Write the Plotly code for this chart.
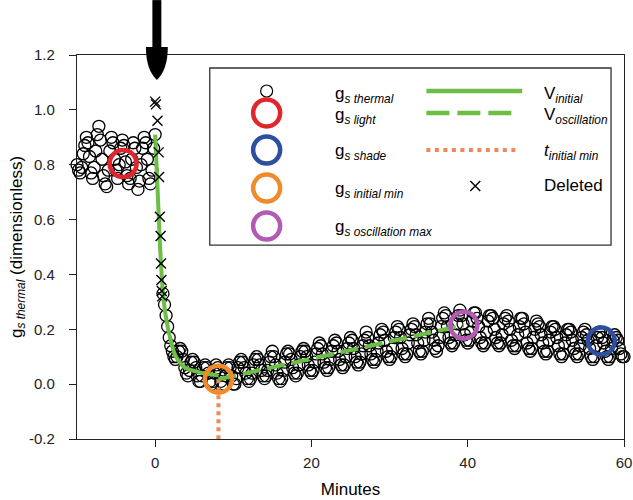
import plotly.graph_objects as go

# ---------------- data ----------------
# g_s thermal, sampled every 0.2 min starting at -10 min (None = deleted samples)
t_start = -10.0
t_step = 0.2
gs_thermal = [
    # -10 .. 0 min
    0.80, 0.78, 0.77, 0.79, 0.84, 0.87, 0.90, 0.88, 0.83, 0.77,
    0.75, 0.79, 0.85, 0.91, 0.94, 0.89, 0.82, 0.76, 0.73, 0.72,
    0.78, 0.85, 0.90, 0.88, 0.82, 0.78, 0.75, 0.80, 0.86, 0.89,
    0.87, 0.81, 0.76, 0.73, 0.75, 0.82, 0.88, 0.86, 0.79, 0.71,
    0.74, 0.80, 0.86, 0.90, 0.88, 0.82, 0.75, 0.73, 0.78, 0.86,
    0.91,
    # 0.2 .. 0.8 min (deleted)
    None, None, None, None,
    # 1.0 .. 10.8 min
    0.33, 0.29, 0.25, 0.21, 0.17, 0.14, 0.12, 0.10, 0.09, 0.10,
    0.12, 0.13, 0.12, 0.09, 0.06, 0.04, 0.03, 0.05, 0.08, 0.09,
    0.08, 0.06, 0.03, 0.01, 0.01, 0.03, 0.06, 0.07, 0.06, 0.04,
    0.01, 0.00, 0.01, 0.04, 0.07, 0.06, 0.04, 0.01, -0.01, 0.00,
    0.03, 0.06, 0.07, 0.06, 0.03, 0.00, 0.00, 0.02, 0.06, 0.08,
    # 11.0 .. 40.8 min
    0.09, 0.08, 0.06, 0.04, 0.02, 0.01, 0.02, 0.04, 0.07, 0.09,
    0.10, 0.09, 0.07, 0.05, 0.03, 0.02, 0.03, 0.05, 0.08, 0.10,
    0.12, 0.10, 0.07, 0.04, 0.02, 0.01, 0.02, 0.05, 0.08, 0.11,
    0.12, 0.11, 0.09, 0.06, 0.04, 0.03, 0.04, 0.07, 0.10, 0.12,
    0.13, 0.12, 0.10, 0.07, 0.05, 0.04, 0.05, 0.08, 0.11, 0.13,
    0.15, 0.14, 0.11, 0.08, 0.06, 0.05, 0.06, 0.09, 0.12, 0.14,
    0.16, 0.15, 0.12, 0.09, 0.07, 0.06, 0.07, 0.10, 0.13, 0.15,
    0.17, 0.16, 0.13, 0.10, 0.08, 0.07, 0.08, 0.11, 0.14, 0.16,
    0.19, 0.17, 0.14, 0.11, 0.09, 0.08, 0.09, 0.12, 0.15, 0.18,
    0.20, 0.19, 0.16, 0.12, 0.10, 0.09, 0.10, 0.13, 0.17, 0.19,
    0.21, 0.20, 0.17, 0.13, 0.11, 0.10, 0.11, 0.15, 0.18, 0.20,
    0.22, 0.21, 0.18, 0.15, 0.12, 0.11, 0.12, 0.16, 0.19, 0.22,
    0.24, 0.22, 0.19, 0.16, 0.13, 0.12, 0.14, 0.17, 0.21, 0.24,
    0.26, 0.25, 0.21, 0.17, 0.15, 0.14, 0.15, 0.18, 0.22, 0.25,
    0.27, 0.25, 0.22, 0.18, 0.16, 0.15, 0.16, 0.19, 0.23, 0.26,
    # 41.0 .. 60.0 min
    0.26, 0.24, 0.21, 0.17, 0.15, 0.14, 0.15, 0.19, 0.23, 0.25,
    0.25, 0.24, 0.20, 0.17, 0.15, 0.14, 0.15, 0.18, 0.22, 0.24,
    0.25, 0.23, 0.20, 0.16, 0.14, 0.13, 0.14, 0.18, 0.21, 0.24,
    0.24, 0.22, 0.19, 0.15, 0.13, 0.12, 0.13, 0.17, 0.20, 0.23,
    0.22, 0.21, 0.18, 0.15, 0.12, 0.11, 0.12, 0.16, 0.19, 0.21,
    0.21, 0.20, 0.17, 0.14, 0.11, 0.10, 0.11, 0.15, 0.18, 0.20,
    0.20, 0.19, 0.16, 0.13, 0.11, 0.10, 0.11, 0.14, 0.17, 0.19,
    0.20, 0.18, 0.16, 0.13, 0.10, 0.09, 0.10, 0.14, 0.17, 0.19,
    0.19, 0.17, 0.15, 0.12, 0.10, 0.09, 0.10, 0.13, 0.16, 0.18,
    0.17, 0.16, 0.13, 0.11, 0.10, 0.10,
]

deleted_t = [0.0, 0.1, 0.3, 0.45, 0.5, 0.6, 0.7, 0.75, 0.8, 0.85, 0.9]
deleted_gs = [1.03, 1.02, 0.96, 0.845, 0.755, 0.61, 0.54, 0.44, 0.38, 0.34, 0.32]

v_initial_t = [0.0, 0.3, 0.6, 0.9, 1.2, 1.6, 2.0, 2.5, 3.0, 3.6, 4.5, 5.7, 7.0, 8.1]
v_initial_gs = [0.91, 0.72, 0.52, 0.37, 0.28, 0.21, 0.16, 0.11, 0.085, 0.065, 0.052, 0.043, 0.036, 0.032]

gs_light = (-4.1, 0.804)
gs_shade = (57.1, 0.157)
gs_initial_min = (8.1, 0.018)
gs_oscillation_max = (39.5, 0.215)

v_osc_t = [gs_initial_min[0], gs_oscillation_max[0]]
v_osc_gs = [gs_initial_min[1], gs_oscillation_max[1]]

t_initial_min_t = [gs_initial_min[0], gs_initial_min[0]]
t_initial_min_gs = [gs_initial_min[1], -0.2]

x_ticks = [0, 20, 40, 60]
y_ticks = [-0.2, 0.0, 0.2, 0.4, 0.6, 0.8, 1.0, 1.2]
y_tick_labels = ['-0.2', '0.0', '0.2', '0.4', '0.6', '0.8', '1.0', '1.2']

# ---------------- style ----------------
GREEN = '#6DBE45'
RED = '#E1262B'
BLUE = '#2E4E9F'
ORANGE = '#F08A2A'
PURPLE = '#B35BB3'
DOT_ORANGE = '#EE8A55'
FONT = 'Liberation Sans'

fig = go.Figure()

fig.add_trace(go.Scatter(
    x0=t_start, dx=t_step, y=gs_thermal, mode='markers', cliponaxis=False,
    marker=dict(symbol='circle-open', size=12, color='black', line=dict(width=1.3, color='black')),
    connectgaps=False))

fig.add_trace(go.Scatter(x=t_initial_min_t, y=t_initial_min_gs, mode='lines',
                         line=dict(color=DOT_ORANGE, width=4, dash='4px,4px')))
fig.add_trace(go.Scatter(x=v_initial_t, y=v_initial_gs, mode='lines',
                         line=dict(color=GREEN, width=4, shape='spline')))
fig.add_trace(go.Scatter(x=v_osc_t, y=v_osc_gs, mode='lines',
                         line=dict(color=GREEN, width=4, dash='18px,7px')))
fig.add_trace(go.Scatter(x=deleted_t, y=deleted_gs, mode='markers', cliponaxis=False,
                         marker=dict(symbol='x-thin', size=10, color='black',
                                     line=dict(width=1.4, color='black'))))

for (px_, py_), col in [(gs_light, RED), (gs_shade, BLUE), (gs_initial_min, ORANGE), (gs_oscillation_max, PURPLE)]:
    fig.add_trace(go.Scatter(x=[px_], y=[py_], mode='markers', cliponaxis=False,
                             marker=dict(symbol='circle-open', size=27, color=col,
                                         line=dict(width=4.5, color=col))))

# ---------------- legend (drawn on overlay axes in plot-fraction units) ----------------
lx_marker = 0.3467
leg_rows = [0.9063, 0.849, 0.7526, 0.6536, 0.5547]
fig.add_trace(go.Scatter(x=[lx_marker], y=[leg_rows[0]], xaxis='x2', yaxis='y2', mode='markers',
                         marker=dict(symbol='circle-open', size=12, color='black', line=dict(width=1.2))))
for yy, col in zip(leg_rows[1:], [RED, BLUE, ORANGE, PURPLE]):
    fig.add_trace(go.Scatter(x=[lx_marker], y=[yy], xaxis='x2', yaxis='y2', mode='markers',
                             marker=dict(symbol='circle-open', size=27, color=col, line=dict(width=4.5, color=col))))
fig.add_trace(go.Scatter(x=[0.6387, 0.8139], y=[0.9063, 0.9063], xaxis='x2', yaxis='y2', mode='lines',
                         line=dict(color=GREEN, width=4.5)))
fig.add_trace(go.Scatter(x=[0.6387, 0.7960], y=[0.8490, 0.8490], xaxis='x2', yaxis='y2', mode='lines',
                         line=dict(color=GREEN, width=4.5, dash='23px,8px')))
fig.add_trace(go.Scatter(x=[0.6387, 0.8084], y=[0.7526, 0.7526], xaxis='x2', yaxis='y2', mode='lines',
                         line=dict(color=DOT_ORANGE, width=4, dash='4px,4.5px')))
fig.add_trace(go.Scatter(x=[0.7281], y=[0.6589], xaxis='x2', yaxis='y2', mode='markers',
                         marker=dict(symbol='x-thin', size=10, color='black', line=dict(width=1.4, color='black'))))

col2 = [("g<sub><i>s thermal</i></sub>", 0.8958), ("g<sub><i>s light</i></sub>", 0.8411),
        ("g<sub><i>s shade</i></sub>", 0.7474), ("g<sub><i>s initial min</i></sub>", 0.6484),
        ("g<sub><i>s oscillation max</i></sub>", 0.5495)]
col4 = [("V<sub><i>initial</i></sub>", 0.8958), ("V<sub><i>oscillation</i></sub>", 0.8411),
        ("<i>t</i><sub><i>initial min</i></sub>", 0.7474), ("Deleted", 0.6589)]
annotations = []
for txt, yy in col2:
    annotations.append(dict(text=txt, x=0.4672, y=yy, xref='paper', yref='paper', showarrow=False,
                            xanchor='left', yanchor='middle', font=dict(family=FONT, size=17, color='black')))
for txt, yy in col4:
    annotations.append(dict(text=txt, x=0.8504, y=yy, xref='paper', yref='paper', showarrow=False,
                            xanchor='left', yanchor='middle', font=dict(family=FONT, size=17, color='black')))

shapes = [
    dict(type='rect', xref='paper', yref='paper', x0=0.2427, x1=0.9763, y0=0.505, y1=0.9661,
         line=dict(color='#333333', width=1.3), fillcolor='white', layer='below'),
    # stimulus arrow
    dict(type='rect', xref='paper', yref='paper', x0=0.1378, x1=0.1542, y0=1.015, y1=1.143,
         line=dict(width=0), fillcolor='black', layer='above'),
    dict(type='path', xref='paper', yref='paper',
         path='M 0.126,1.021 Q 0.126,0.962 0.146,0.935 Q 0.166,0.962 0.166,1.021 Z',
         line=dict(width=0), fillcolor='black', layer='above'),
]

axis_common = dict(showline=True, linecolor='#222222', linewidth=1.3, mirror=True, ticks='outside',
                   ticklen=7, tickwidth=1.2, tickcolor='#222222', showgrid=False, zeroline=False,
                   automargin=False, ticklabeloverflow='allow',
                   tickfont=dict(family=FONT, size=15, color='#222222'))

fig.update_layout(
    width=633, height=500,
    margin=dict(l=77, r=9, t=55, b=61),
    plot_bgcolor='white', paper_bgcolor='white',
    showlegend=False,
    font=dict(family=FONT, color='black'),
    xaxis=dict(range=[-10, 60], tickvals=x_ticks, ticklabelstandoff=3,
               title=dict(text='Minutes', font=dict(family=FONT, size=17, color='black'), standoff=12),
               **axis_common),
    yaxis=dict(range=[-0.2, 1.2], tickvals=y_ticks, ticktext=y_tick_labels, ticklabelstandoff=11,
               title=dict(text='g<sub><i>s thermal</i></sub> (dimensionless)',
                          font=dict(family=FONT, size=17, color='black'), standoff=2),
               **axis_common),
    xaxis2=dict(overlaying='x', range=[0, 1], visible=False, anchor='y2'),
    yaxis2=dict(overlaying='y', range=[0, 1], visible=False, anchor='x2'),
    annotations=annotations,
    shapes=shapes,
)

fig.write_html('out.html', config={'displayModeBar': False},
               post_script="document.body.style.margin='0px';document.body.style.overflow='hidden';")
